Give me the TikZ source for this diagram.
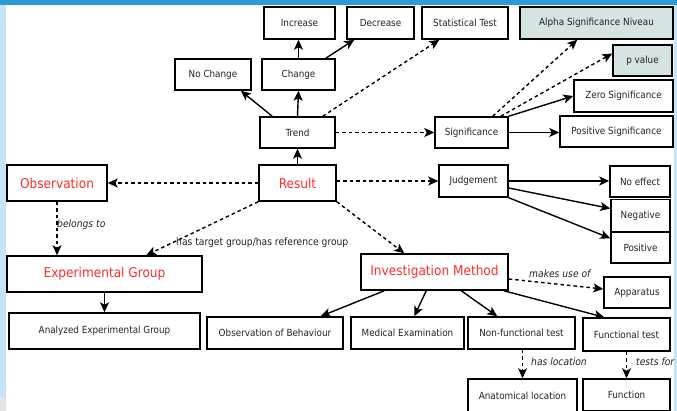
\documentclass[tikz,border=0pt]{standalone}
\usepackage{fontspec}
\setmainfont{DejaVu Sans Condensed}
\usetikzlibrary{arrows.meta}
\definecolor{conceptred}{HTML}{FF2E2E}
\definecolor{barblue}{HTML}{2B9AD9}
\definecolor{stripblue}{HTML}{C6E4F7}
\definecolor{stripgrey}{HTML}{E4E4E4}
\definecolor{paramfill}{HTML}{D5E3E3}
\definecolor{textdark}{HTML}{222222}
\begin{document}
\begin{tikzpicture}[x=1pt,y=-1pt,
  box/.style={draw=black, line width=1.5pt, inner sep=0pt, text=textdark,
    font=\fontsize{9.8}{11}\selectfont},
  concept/.style={box, text=conceptred, font=\fontsize{13.5}{15}\selectfont},
  param/.style={box, fill=paramfill},
  link/.style={line width=1.4pt, -{Stealth[length=10pt,width=9pt,inset=2.5pt]}},
  dlink/.style={link, dash pattern=on 3.5pt off 3pt},
  rel/.style={font=\itshape\fontsize{10.2}{12}\selectfont, text=textdark, inner sep=0pt, anchor=west},
  relup/.style={font=\fontsize{10.2}{12}\selectfont, text=textdark, inner sep=0pt, anchor=west}]
\useasboundingbox (0,0) rectangle (677,411);
\clip (0,0) rectangle (677,411);

% window frame
\fill[barblue] (0,0) rectangle (677,5);
\fill[stripblue] (0,5) rectangle (6,398);
\fill[stripgrey] (0,398) rectangle (6,411);
\fill[stripblue] (674,5) rectangle (677,411);

% top row
\node[box, minimum width=71, minimum height=32] (increase) at (299.5,23) {Increase};
\node[box, minimum width=67, minimum height=32] (decrease) at (380.5,23) {Decrease};
\node[box, minimum width=86, minimum height=32] (stattest) at (465,23) {Statistical Test};
\node[param, minimum width=153, minimum height=32] (alpha) at (596.5,23) {Alpha Significance Niveau};
\node[param, minimum width=59, minimum height=31] (pvalue) at (642.5,60.5) {p value};

% trend branch
\node[box, minimum width=76, minimum height=31] (nochange) at (213,74.5) {No Change};
\node[box, minimum width=73, minimum height=31] (change) at (298.5,74.5) {Change};
\node[box, minimum width=75, minimum height=31] (trend) at (297.5,132.5) {Trend};

% significance branch
\node[box, minimum width=99, minimum height=32] (zero) at (623.5,96) {Zero Significance};
\node[box, minimum width=73, minimum height=31] (signif) at (471.5,132.5) {Significance};
\node[box, minimum width=113, minimum height=31] (possig) at (616.5,131.5) {Positive Significance};

% central row
\node[concept, minimum width=77, minimum height=36] (result) at (297.5,183) {Result};
\node[concept, minimum width=100, minimum height=36] (observation) at (57,183) {Observation};
\node[box, minimum width=69, minimum height=32] (judgement) at (473.5,181) {Judgement};
\node[box, minimum width=60, minimum height=31] (noeffect) at (640,181.5) {No effect};
\node[box, minimum width=59, minimum height=32] (negative) at (640.5,215.5) {Negative};
\node[box, minimum width=59, minimum height=31] (positive) at (640.5,247.5) {Positive};

% group and method
\node[concept, minimum width=195, minimum height=36] (expgroup) at (104.5,274) {Experimental Group};
\node[box, minimum width=191, minimum height=36] (analyzed) at (104.5,331) {Analyzed Experimental Group};
\node[concept, minimum width=147, minimum height=36] (invmethod) at (434.5,272) {Investigation Method};
\node[box, minimum width=66, minimum height=31] (apparatus) at (637,292.5) {Apparatus};
\node[box, minimum width=136, minimum height=32] (obsbeh) at (275,333) {Observation of Behaviour};
\node[box, minimum width=113, minimum height=32] (medexam) at (407.5,333) {Medical Examination};
\node[box, minimum width=107, minimum height=32] (nonfunc) at (521.5,333) {Non-functional test};
\node[box, minimum width=87, minimum height=33] (functest) at (626.5,334.5) {Functional test};
\node[box, minimum width=109, minimum height=33] (anatloc) at (522.5,395.5) {Anatomical location};
\node[box, minimum width=87, minimum height=32] (function) at (626.5,395) {Function};

% connectors
\draw[dlink] (result.west) -- (observation.east);
\draw[link] (result.north) -- (trend.south);
\draw[link] (trend.north) -- (change.south);
\draw[link] ([xshift=13pt]trend.north west) -- ([xshift=-11pt]nochange.south east);
\draw[link] (change.north) -- (change.north |- increase.south);
\draw[link] ([xshift=-10pt]change.north east) -- ([xshift=8pt]decrease.south west);
\draw[dlink] ([xshift=-13pt]trend.north east) -- ([xshift=18pt]stattest.south west);
\draw[dlink] (trend.east) -- (signif.west);
\draw[dlink] ([xshift=-16pt]signif.north east) -- ([xshift=58pt]alpha.south west);
\draw[dlink] ([xshift=-8pt]signif.north east) -- ([yshift=7pt]pvalue.west);
\draw[link] (signif.north east) -- (zero.west);
\draw[link] (signif.east) -- (signif.east -| possig.west);
\draw[dlink] (judgement.west -| result.east) -- (judgement.west);
\draw[link] (judgement.east) -- (judgement.east -| noeffect.west);
\draw[link] ([yshift=-7pt]judgement.east) -- ([yshift=7pt]negative.west);
\draw[link] (judgement.south east) -- ([yshift=-7pt]positive.north west);
\draw[dlink] (result.south west) -- ([xshift=140pt]expgroup.north west);
\draw[dlink] (result.south east) -- ([xshift=44pt]invmethod.north west);
\draw[dlink] (observation.south) -- (observation.south |- expgroup.north);
\draw[link] (expgroup.south) -- (analyzed.north);
\draw[link] ([xshift=24pt]invmethod.south west) -- ([xshift=-23pt]obsbeh.north east);
\draw[link] ([xshift=66pt]invmethod.south west) -- ([xshift=64pt]medexam.north west);
\draw[link] ([xshift=101pt]invmethod.south west) -- ([xshift=30pt]nonfunc.north west);
\draw[link] ([xshift=-5pt]invmethod.south east) -- ([xshift=22pt]functest.north west);
\draw[dlink] ([yshift=-7pt]invmethod.east) -- ([yshift=3.5pt]apparatus.west);
\draw[dlink] (anatloc.north |- nonfunc.south) -- (anatloc.north);
\draw[dlink] (functest.south) -- (function.north);

% relation labels
\node[rel] (lbelongs) at (57,225) {belongs to};
\node[relup] (lgroup) at (176,243) {has target group/has reference group};
\node[rel] (lmakes) at (529,274) {makes use of};
\node[rel] (llocation) at (531,362) {has location};
\node[rel] (ltests) at (636,362) {tests for};
\end{tikzpicture}
\end{document}
